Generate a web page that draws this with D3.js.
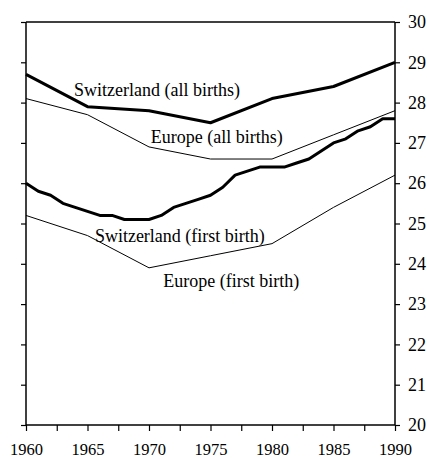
<!DOCTYPE html>
<meta charset="utf-8">
<script src="https://d3js.org/d3.v7.min.js"></script>
<style>
  body { margin: 0; background: #fff; }
  text { font-family: "Liberation Serif", "Times New Roman", serif; }
</style>
<div id="my_dataviz"></div>
<script>
  // data
  var chYears = d3.range(1960, 1991);
  var chFirst = [26.0, 25.8, 25.7, 25.5, 25.4, 25.3, 25.2, 25.2, 25.1, 25.1,
                 25.1, 25.2, 25.4, 25.5, 25.6, 25.7, 25.9, 26.2, 26.3, 26.4,
                 26.4, 26.4, 26.5, 26.6, 26.8, 27.0, 27.1, 27.3, 27.4, 27.6, 27.6];
  var fiveYears = [1960, 1965, 1970, 1975, 1980, 1985, 1990];
  var chAll = [28.7, 27.9, 27.8, 27.5, 28.1, 28.4, 29.0];
  var euAll = [28.1, 27.7, 26.9, 26.6, 26.6, 27.2, 27.8];
  var euFirst = [25.2, 24.7, 23.9, 24.2, 24.5, 25.4, 26.2];
  var xTicks = d3.range(1960, 1990.1, 2.5);
  var yTicks = d3.range(20, 31);

  var margin = {top: 22, right: 32, bottom: 34, left: 26},
      width = 427 - margin.left - margin.right,
      height = 459 - margin.top - margin.bottom;

  var svg = d3.select("#my_dataviz")
    .append("svg")
      .attr("width", 427)
      .attr("height", 459)
    .append("g")
      .attr("transform", "translate(" + margin.left + "," + margin.top + ")");

  var x = d3.scaleLinear().domain([1960, 1990]).range([0, width]);
  var y = d3.scaleLinear().domain([20, 30]).range([height, 0]);

  // axes
  var xAxis = svg.append("g")
    .attr("transform", "translate(0," + height + ")")
    .call(d3.axisBottom(x).tickValues(xTicks).tickSize(6).tickPadding(12)
      .tickFormat(function(d) { return d % 5 === 0 ? d : ""; }));
  var yRight = svg.append("g")
    .attr("transform", "translate(" + width + ",0)")
    .call(d3.axisRight(y).tickValues(yTicks).tickSize(5).tickPadding(8));
  var yLeft = svg.append("g")
    .call(d3.axisLeft(y).tickValues(yTicks).tickSize(5).tickFormat(""));

  [xAxis, yRight, yLeft].forEach(function(a) {
    a.select(".domain").attr("stroke", "#000").attr("stroke-width", 1.5);
    a.selectAll(".tick line").attr("stroke", "#000").attr("stroke-width", 1.2);
    a.selectAll("text").attr("fill", "#000")
      .style("font-family", "'Liberation Serif', serif");
  });
  xAxis.selectAll("text").attr("font-size", 16.5);
  yRight.selectAll("text").attr("font-size", 18);
  xAxis.select(".domain").attr("d", "M0,0H" + width);
  yRight.select(".domain").attr("d", "M0,0V" + height);
  yLeft.select(".domain").attr("d", "M0,0V" + height);

  // top frame line
  svg.append("line")
    .attr("x1", 0).attr("x2", width)
    .attr("y1", y(30)).attr("y2", y(30))
    .attr("stroke", "#000").attr("stroke-width", 1.5);

  var line = d3.line()
    .x(function(d) { return x(d[0]); })
    .y(function(d) { return y(d[1]); });

  function draw(years, vals, w) {
    svg.append("path")
      .datum(d3.zip(years, vals))
      .attr("fill", "none")
      .attr("stroke", "#000")
      .attr("stroke-width", w)
      .attr("stroke-linejoin", "round")
      .attr("d", line);
  }
  draw(fiveYears, euAll, 1);
  draw(fiveYears, euFirst, 1);
  draw(fiveYears, chAll, 3);
  draw(chYears, chFirst, 3);

  // labels
  var labels = [
    {t: "Switzerland (all births)", x: 1963.9, y: 28.17},
    {t: "Europe (all births)", x: 1970.14, y: 26.99},
    {t: "Switzerland (first birth)", x: 1965.6, y: 24.55},
    {t: "Europe (first birth)", x: 1971.16, y: 23.43}
  ];
  svg.selectAll(".lbl")
    .data(labels)
    .enter()
    .append("text")
      .attr("x", function(d) { return x(d.x); })
      .attr("y", function(d) { return y(d.y); })
      .attr("font-size", 18)
      .text(function(d) { return d.t; });
</script>
